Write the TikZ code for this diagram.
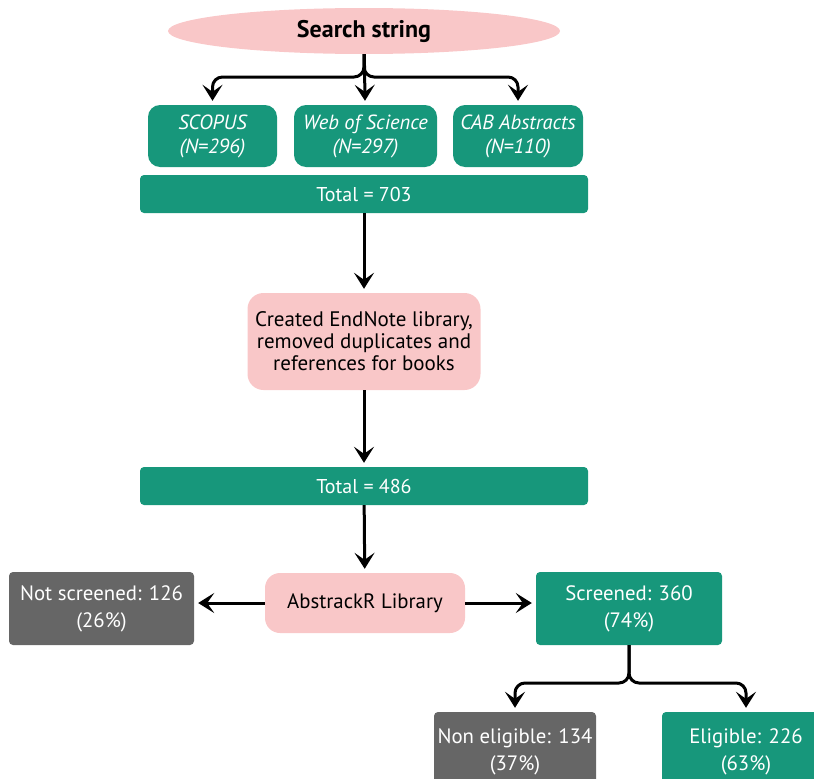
\documentclass[tikz,border=0pt]{standalone}
\usepackage{fontspec}
\setmainfont{PT Sans}
\usetikzlibrary{arrows.meta,shapes.geometric}

\definecolor{tealbox}{HTML}{17977B}
\definecolor{pinkbox}{HTML}{F9C7C8}
\definecolor{greybox}{HTML}{666666}

\tikzset{
    basebox/.style={inner sep=0pt, align=center},
    tealnode/.style={basebox, fill=tealbox, text=white},
    greynode/.style={basebox, fill=greybox, text=white},
    pinknode/.style={basebox, fill=pinkbox, text=black},
    flow/.style={->, line width=3pt, shorten >=4pt},
}

\begin{document}
\begin{tikzpicture}[x=1pt, y=-1pt, >={Stealth[length=16pt,width=20pt,inset=7pt]}]
            \path[use as bounding box, clip] (0,0) rectangle (814,779);

            % search string and databases
            \node[ellipse, fill=pinkbox, minimum width=392pt, minimum height=46pt,
                font=\bfseries\fontsize{24}{28}\selectfont] (search) at (364,31) {Search string};

            \begin{scope}[every node/.style={tealnode, rounded corners=12pt, minimum height=62pt,
                    font=\itshape\fontsize{20.5}{24}\selectfont}]
                \node[minimum width=129pt] (scopus) at (212.5,136) {SCOPUS\\(N=296)};
                \node[minimum width=143pt] (wos) at (365.5,136) {Web of Science\\(N=297)};
                \node[minimum width=130pt] (cab) at (518,136) {CAB Abstracts\\(N=110)};
            \end{scope}

            \begin{scope}[every node/.style={tealnode, rounded corners=4pt, minimum width=448pt,
                    minimum height=38pt, font=\fontsize{20}{24}\selectfont}]
                \node (total1) at (364,194) {Total = 703};
                \node (total2) at (364,486) {Total = 486};
            \end{scope}

            \node[pinknode, rounded corners=16pt, minimum width=233pt, minimum height=97pt,
                font=\fontsize{21}{22}\selectfont] (endnote) at (364,341.5)
                {Created EndNote library,\\removed duplicates and\\references for books};

            % screening
            \begin{scope}[every node/.style={basebox, font=\fontsize{20.8}{27}\selectfont}]
                \node[pinknode, rounded corners=15pt, minimum width=200pt, minimum height=60pt] (abstrackr) at (365,603) {AbstrackR Library};
                \node[greynode, rounded corners=4pt, minimum width=185pt, minimum height=73pt] (notscr) at (101.5,608.5) {Not screened: 126\\(26\%)};
                \node[tealnode, rounded corners=4pt, minimum width=186pt, minimum height=73pt] (scr) at (629,608.5) {Screened: 360\\(74\%)};
                \node[greynode, rounded corners=4pt, minimum width=162pt, minimum height=80pt] (noneli) at (515,752) {Non eligible: 134\\(37\%)};
                \node[tealnode, rounded corners=4pt, minimum width=168pt, minimum height=80pt] (eli) at (746,752) {Eligible: 226\\(63\%)};
            \end{scope}

            \coordinate (split1) at (364,77);
            \coordinate (split2) at (629,683);

            \begin{scope}[every edge/.style={draw, flow}]
                \draw[flow, rounded corners=10pt] (search.south) -- (split1) -| (scopus.north);
                \draw[flow, rounded corners=10pt] (search.south) -- (split1) -| (cab.north);
                \path (search) edge (wos);

                \path (total1) edge (endnote);
                \path (endnote) edge (total2);
                \path (total2) edge (abstrackr);

                \path (abstrackr.west) edge (abstrackr.west -| notscr.east);
                \path (abstrackr.east) edge (abstrackr.east -| scr.west);

                \draw[flow, rounded corners=10pt] (scr.south) -- (split2) -| (noneli.north);
                \draw[flow, rounded corners=10pt] (scr.south) -- (split2) -| (eli.north);
            \end{scope}
        \end{tikzpicture}
\end{document}
